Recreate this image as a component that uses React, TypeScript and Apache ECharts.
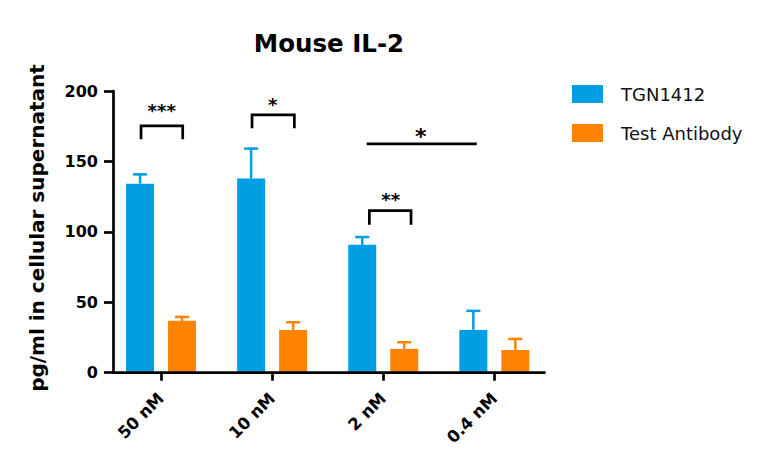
import React, { useEffect, useRef } from "react";
import * as echarts from "echarts";

const categories = ["50 nM", "10 nM", "2 nM", "0.4 nM"];
const seriesNames = ["TGN1412", "Test Antibody"];
const tgnMean = [134.2, 137.8, 90.8, 30.4];
const tgnUpper = [140.8, 159.1, 96.3, 43.9];
const abMean = [36.8, 30.4, 16.9, 16.2];
const abUpper = [39.6, 35.8, 21.6, 24.0];
const yMin = 0;
const yMax = 200;
const yInterval = 50;

// significance annotations (positions in category units / data units)
const sigLabels = ["***", "*", "**", "*"];
const sigStart = [-0.18, 0.819, 1.875, 1.851];
const sigEnd = [0.195, 1.2, 2.25, 2.842];
const sigTop = [175.2, 183.0, 115.0, 162.4];
const sigLegBottom = [165.7, 173.5, 105.0, NaN];
const sigTextX = [0.006, 1.004, 2.067, 2.337];
const sigTextY = [186.1, 190.3, 122.9, 168.0];
const sigTextSize = [18, 18, 18, 22];

const BLUE = "#009FE3";
const ORANGE = "#FF8200";
const FONT = "DejaVu Sans";
const BAR_W = 28;
const BAR_GAP = 14;

export default function App() {
  const ref = useRef<HTMLDivElement>(null);
  useEffect(() => {
    document.body.style.margin = "0";
    const chart = echarts.init(ref.current!, undefined, { renderer: "svg" });

    const errSeries = (mean: number[], upper: number[], color: string, side: number, name: string) => ({
      type: "custom",
      name: name + " err",
      z: 5,
      silent: true,
      data: mean.map((m, i) => [i, m, upper[i]]),
      encode: { x: 0, y: 1 },
      renderItem: (params: any, api: any) => {
        const i = api.value(0);
        const p = api.coord([i, api.value(1)]);
        const q = api.coord([i, api.value(2)]);
        const x = p[0] + side * (BAR_W + BAR_GAP) / 2;
        return {
          type: "group",
          children: [
            { type: "line", shape: { x1: x, y1: p[1], x2: x, y2: q[1] }, style: { stroke: color, lineWidth: 2.5 } },
            { type: "line", shape: { x1: x - 7, y1: q[1], x2: x + 7, y2: q[1] }, style: { stroke: color, lineWidth: 2.5 } },
          ],
        };
      },
    });

    const option: any = {
      animation: false,
      textStyle: { fontFamily: FONT },
      grid: { left: 105.5, top: 91, width: 444.4, height: 281.7, containLabel: false },
      legend: {
        orient: "vertical",
        left: 567,
        top: 80,
        itemWidth: 31,
        itemHeight: 18,
        itemGap: 21,
        icon: "rect",
        data: seriesNames,
        textStyle: { fontFamily: FONT, fontSize: 18, color: "#111", padding: [0, 0, 0, 13] },
      },
      xAxis: {
        type: "category",
        data: categories,
        boundaryGap: true,
        axisLine: { show: false },
        axisTick: { show: true, alignWithLabel: true, length: 8, lineStyle: { color: "#000", width: 2.7 } },
        axisLabel: { rotate: 45, margin: 23, fontSize: 16.5, fontWeight: "bold", color: "#000", fontFamily: FONT },
        splitLine: { show: false },
      },
      yAxis: {
        type: "value",
        min: yMin,
        max: yMax,
        interval: yInterval,
        offset: -7.5,
        axisLine: { show: true, lineStyle: { color: "#000", width: 2.7 } },
        axisTick: { show: true, length: 9, lineStyle: { color: "#000", width: 2.7 } },
        axisLabel: { margin: 15, fontSize: 16, fontWeight: "bold", color: "#000", fontFamily: FONT },
        splitLine: { show: false },
      },
      graphic: [
        {
          type: "text",
          x: 329,
          y: 43,
          style: { text: "Mouse IL-2", font: `bold 24.5px ${FONT}`, fill: "#000", textAlign: "center", textVerticalAlign: "middle" },
        },
        {
          type: "text",
          x: 37,
          y: 228,
          rotation: Math.PI / 2,
          style: { text: "pg/ml in cellular supernatant", font: `bold 20px ${FONT}`, fill: "#000", textAlign: "center", textVerticalAlign: "middle" },
        },
        {
          type: "line",
          shape: { x1: 111.7, y1: 372.7, x2: 545.7, y2: 372.7 },
          style: { stroke: "#000", lineWidth: 2.7 },
          z: 10,
        },
      ],
      series: [
        {
          type: "bar",
          name: seriesNames[0],
          data: tgnMean,
          barWidth: BAR_W,
          barGap: `${(BAR_GAP / BAR_W) * 100}%`,
          itemStyle: { color: BLUE },
        },
        {
          type: "bar",
          name: seriesNames[1],
          data: abMean,
          barWidth: BAR_W,
          barGap: `${(BAR_GAP / BAR_W) * 100}%`,
          itemStyle: { color: ORANGE },
        },
        errSeries(tgnMean, tgnUpper, BLUE, -1, seriesNames[0]),
        errSeries(abMean, abUpper, ORANGE, 1, seriesNames[1]),
        {
          type: "custom",
          name: "sig",
          z: 6,
          silent: true,
          data: sigLabels.map((s, i) => [sigStart[i], sigTop[i], i]),
          encode: { x: 0, y: 1 },
          renderItem: (params: any, api: any) => {
            const k = params.dataIndex;
            const origin = api.coord([0, 0]);
            const band = api.size([1, 0])[0];
            const xa = origin[0] + sigStart[k] * band;
            const xb = origin[0] + sigEnd[k] * band;
            const yt = api.coord([0, sigTop[k]])[1];
            const children: any[] = [];
            if (isNaN(sigLegBottom[k])) {
              children.push({ type: "line", shape: { x1: xa, y1: yt, x2: xb, y2: yt }, style: { stroke: "#000", lineWidth: 2.7 } });
            } else {
              const yb = api.coord([0, sigLegBottom[k]])[1];
              children.push({
                type: "polyline",
                shape: { points: [[xa, yb], [xa, yt], [xb, yt], [xb, yb]] },
                style: { stroke: "#000", lineWidth: 2.7, fill: "none", lineJoin: "miter" },
              });
            }
            const tx = origin[0] + sigTextX[k] * band;
            const ty = api.coord([0, sigTextY[k]])[1];
            children.push({
              type: "text",
              x: tx,
              y: ty,
              style: { text: sigLabels[k], font: `bold ${sigTextSize[k]}px ${FONT}`, fill: "#000", textAlign: "center", textVerticalAlign: "middle" },
            });
            return { type: "group", children };
          },
        },
      ],
    };
    chart.setOption(option);
    return () => chart.dispose();
  }, []);
  return <div ref={ref} style={{ width: 772, height: 472 }} />;
}
